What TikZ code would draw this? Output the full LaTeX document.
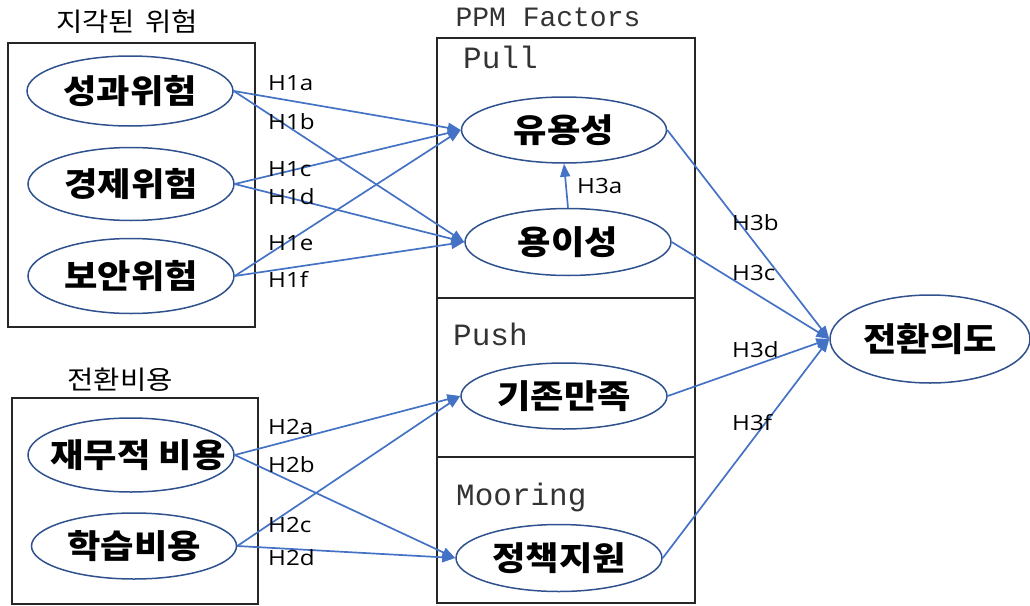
\documentclass[tikz,border=0pt]{standalone}
\usepackage{fontspec}
\setmainfont{Noto Sans CJK KR}[FakeStretch=1.1]
\newfontfamily\latinfam[FakeStretch=1.15]{Open Sans}
\newfontfamily\monofam{Liberation Mono}
\usetikzlibrary{shapes.geometric,arrows.meta}
\definecolor{ellblue}{HTML}{2F528F}
\definecolor{arrblue}{HTML}{4472C4}
\definecolor{boxgray}{HTML}{262626}

\begin{document}
\begin{tikzpicture}[x=1pt,y=-1pt,
  construct/.style={ellipse,draw=ellblue,line width=1.5pt,inner sep=0pt,
    minimum width=206pt,minimum height=70pt,
    font=\fontsize{33}{33}\selectfont\bfseries},
  groupbox/.style={draw=boxgray,line width=2pt},
  grouptitle/.style={inner sep=0pt,font=\fontsize{26}{26}\selectfont},
  factortitle/.style={anchor=base west,inner sep=0pt,font=\monofam\fontsize{31}{31}\selectfont,text=black!80},
  hyppath/.style={draw=arrblue,line width=1.7pt,-{Triangle[length=13pt,width=10pt]}},
  hyp/.style={anchor=base west,inner sep=0pt,font=\latinfam\fontsize{21}{21}\selectfont}]
\useasboundingbox (0,0) rectangle (1030,605);

% group frames
\draw[groupbox] (8,43) rectangle (255,327);
\draw[groupbox] (12,398) rectangle (258,604);
\draw[groupbox] (437,38) rectangle (695,603);
\draw[groupbox] (437,298) -- (695,298);
\draw[groupbox] (437,457) -- (695,457);

% group titles
\node[grouptitle] (tRisk) at (127,22) {지각된\hspace{0.4em}위험};
\node[grouptitle] (tCost) at (120,380) {전환비용};
\node[anchor=base,inner sep=0pt,font=\monofam\fontsize{28}{28}\selectfont,text=black!80] (tPPM) at (548,26) {PPM Factors};
\node[factortitle] (tPull) at (463,68) {Pull};
\node[factortitle] (tPush) at (453,345) {Push};
\node[factortitle] (tMoor) at (456,505) {Mooring};

% constructs
\node[construct] (perf) at (130,91) {성과위험};
\node[construct,minimum height=73pt] (econ) at (131,184) {경제위험};
\node[construct,minimum height=75pt] (secu) at (131,276) {보안위험};
\node[construct,minimum height=74pt,inner xsep=-40pt] (fin) at (131,455) {\hspace{14pt}재무적 비용};
\node[construct,minimum width=205pt,minimum height=66pt] (learn) at (134,546) {학습비용};
\node[construct,minimum width=205pt,minimum height=66pt] (useful) at (564,130) {유용성};
\node[construct,minimum width=206pt,minimum height=67pt] (ease) at (568,242) {용이성};
\node[construct,minimum width=206pt,minimum height=66pt] (satis) at (564,396) {기존만족};
\node[construct,minimum width=206pt,minimum height=67pt] (policy) at (559,558) {정책지원};
\node[construct,minimum width=200pt,minimum height=88pt] (intent) at (930,339) {전환의도};

% hypothesised paths
\draw[hyppath] (perf.east) -- (useful.west);
\draw[hyppath] (perf.east) -- (ease.west);
\draw[hyppath] (econ.east) -- (useful.west);
\draw[hyppath] (econ.east) -- (ease.west);
\draw[hyppath] (secu.east) -- (useful.west);
\draw[hyppath] (secu.east) -- (ease.west);
\draw[hyppath] (fin.east) -- (satis.west);
\draw[hyppath] (fin.east) -- (policy.west);
\draw[hyppath] (learn.east) -- (satis.west);
\draw[hyppath] (learn.east) -- (policy.west);
\draw[hyppath] (ease.north) -- (useful.south);
\draw[hyppath] (useful.east) -- (intent.west);
\draw[hyppath] (ease.east) -- (intent.west);
\draw[hyppath] (satis.east) -- (intent.west);
\draw[hyppath] (policy.east) -- (intent.west);

% hypothesis labels
\node[hyp] (h1a) at (268,90) {H1a};
\node[hyp] (h1b) at (268,129) {H1b};
\node[hyp] (h1c) at (268,176) {H1c};
\node[hyp] (h1d) at (268,204) {H1d};
\node[hyp] (h1e) at (268,250) {H1e};
\node[hyp] (h1f) at (268,287) {H1f};
\node[hyp] (h2a) at (268,434) {H2a};
\node[hyp] (h2b) at (268,472) {H2b};
\node[hyp] (h2c) at (268,532) {H2c};
\node[hyp] (h2d) at (268,565) {H2d};
\node[hyp] (h3a) at (577,193) {H3a};
\node[hyp] (h3b) at (732,230) {H3b};
\node[hyp] (h3c) at (732,280) {H3c};
\node[hyp] (h3d) at (732,357) {H3d};
\node[hyp] (h3f) at (732,430) {H3f};
\end{tikzpicture}
\end{document}
